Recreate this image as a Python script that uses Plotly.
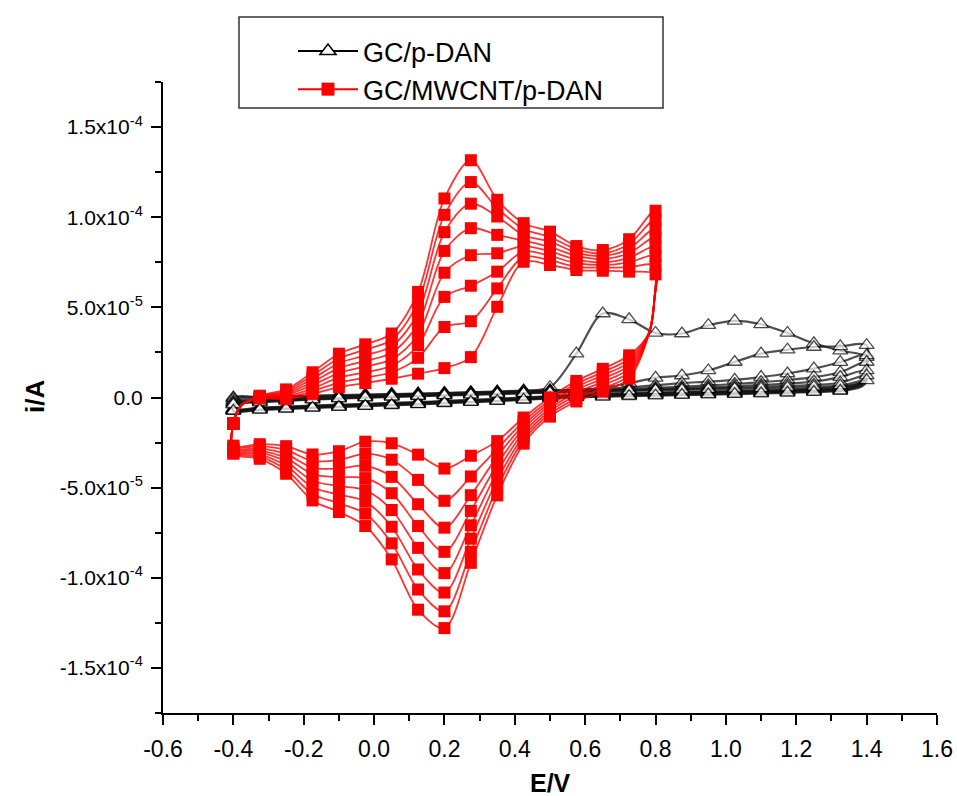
import plotly.graph_objects as go

# ---------------- data (currents in microamps) ----------------
# GC/MWCNT/p-DAN : 8 cycles, markers every 0.075 V between -0.4 and 0.8 V
E_RED = [-0.4, -0.325, -0.25, -0.175, -0.1, -0.025, 0.05, 0.125, 0.2, 0.275,
         0.35, 0.425, 0.5, 0.575, 0.65, 0.725, 0.8]
RED_ANODIC = [
    [-14.5, -0.5, -1.0, 2.0, 5.7, 8.0, 10.4, 13.2, 16.3, 22.4, 50.3, 75.3, 73.5, 70.7, 70.3, 69.8, 68.3],
    [-14.5, -0.3, 0.0, 3.5, 8.3, 11.0, 14.0, 22.0, 39.1, 42.3, 60.5, 78.0, 76.0, 72.5, 72.0, 72.3, 73.3],
    [-14.5, 0.0, 0.7, 5.0, 11.0, 14.0, 17.6, 29.0, 55.8, 62.0, 69.8, 81.0, 78.5, 74.5, 73.5, 75.0, 78.4],
    [-14.5, 0.0, 1.4, 6.8, 13.6, 17.2, 21.2, 35.0, 69.2, 78.9, 80.0, 84.0, 81.0, 76.5, 75.0, 77.5, 83.4],
    [-14.5, 0.3, 2.1, 8.6, 16.3, 20.3, 24.8, 41.0, 81.3, 93.9, 90.2, 87.0, 83.5, 78.5, 76.8, 80.0, 88.5],
    [-14.5, 0.5, 2.8, 10.4, 19.0, 23.4, 28.4, 47.0, 91.7, 107.5, 100.4, 90.0, 86.5, 80.3, 78.5, 82.6, 93.5],
    [-14.5, 0.7, 3.6, 12.2, 21.6, 26.5, 32.0, 53.0, 101.3, 119.5, 105.0, 93.5, 89.0, 82.2, 80.0, 85.2, 98.5],
    [-14.5, 1.0, 4.5, 14.0, 24.3, 29.5, 35.5, 58.6, 110.4, 131.6, 109.7, 96.7, 92.0, 84.0, 81.8, 87.8, 103.6],
]
# reverse sweep, at 0.725 ... -0.4 V
RED_CATHODIC = [
    [23.4, 15.9, 9.2, 0.0, -11.1, -24.2, -32.3, -39.4, -31.7, -25.4, -24.5, -29.8, -31.6, -27.0, -25.9, -26.7],
    [21.5, 14.1, 7.6, -1.5, -13.2, -28.5, -43.8, -57.3, -45.7, -34.5, -31.3, -34.6, -35.2, -29.2, -27.0, -27.3],
    [19.6, 12.3, 5.9, -3.0, -15.3, -32.8, -54.2, -72.2, -59.2, -44.0, -37.9, -39.4, -38.9, -31.4, -28.2, -28.0],
    [17.8, 10.5, 4.3, -4.5, -17.3, -37.1, -62.9, -85.6, -71.3, -53.1, -44.7, -44.2, -42.5, -33.6, -29.3, -28.6],
    [16.0, 8.7, 2.7, -6.1, -19.4, -41.4, -70.9, -97.4, -83.4, -62.4, -51.4, -49.1, -46.2, -35.7, -30.5, -29.3],
    [14.1, 6.9, 1.1, -7.6, -21.5, -45.7, -78.3, -108.2, -95.4, -71.7, -57.7, -53.9, -49.8, -37.9, -31.7, -29.9],
    [12.3, 5.1, -0.6, -9.1, -23.5, -50.0, -85.6, -118.6, -106.5, -80.9, -64.4, -58.7, -53.5, -40.1, -32.8, -30.6],
    [10.5, 3.3, -2.2, -10.6, -25.6, -54.3, -91.7, -127.9, -117.7, -89.8, -71.3, -63.5, -57.1, -42.3, -34.0, -31.2],
]
# unmarked points on the two switching corners
RED_LOWTURN_E = [-0.378]
RED_LOWTURN_I = [-4.5]
RED_HIGHTURN_E = [0.797, 0.782]
RED_HIGHTURN_I = [55.0, 36.0]

# GC/p-DAN : 7 cycles, markers every 0.075 V between -0.4 and 1.4 V
E_BLK = [-0.4, -0.325, -0.25, -0.175, -0.1, -0.025, 0.05, 0.125, 0.2, 0.275, 0.35,
         0.425, 0.5, 0.575, 0.65, 0.725, 0.8, 0.875, 0.95, 1.025, 1.1, 1.175, 1.25,
         1.325, 1.4]
BLK_ANODIC = [
    [0.0, 0.3, 0.7, 1.0, 1.3, 1.6, 1.9, 2.2, 2.5, 2.9, 3.3, 3.9, 5.7, 24.3, 46.6, 43.3, 35.8, 35.5, 40.1, 42.5, 40.6, 35.8, 30.0, 26.0, 22.4],
    [-0.5, 0.0, 0.4, 0.8, 1.1, 1.4, 1.7, 2.0, 2.4, 2.8, 3.2, 3.6, 4.0, 4.4, 5.4, 8.0, 10.9, 12.2, 15.0, 19.7, 24.3, 26.5, 28.0, 28.4, 29.0],
    [-1.5, -0.8, -0.3, 0.2, 0.6, 1.0, 1.3, 1.7, 2.1, 2.5, 2.9, 3.3, 3.7, 4.2, 4.8, 5.6, 6.8, 8.0, 8.8, 9.8, 11.3, 13.3, 16.0, 19.6, 23.4],
    [-2.5, -1.6, -1.0, -0.4, 0.1, 0.5, 0.9, 1.3, 1.7, 2.1, 2.5, 2.9, 3.4, 3.9, 4.3, 4.8, 5.4, 6.0, 6.7, 7.5, 8.5, 9.7, 11.3, 14.0, 19.7],
    [-3.0, -2.0, -1.3, -0.7, -0.2, 0.3, 0.7, 1.1, 1.5, 1.9, 2.3, 2.7, 3.1, 3.5, 3.9, 4.3, 4.7, 5.1, 5.6, 6.2, 6.9, 7.7, 8.8, 11.3, 15.0],
    [-3.5, -2.4, -1.6, -1.0, -0.4, 0.1, 0.5, 0.9, 1.3, 1.7, 2.1, 2.5, 2.9, 3.3, 3.6, 4.0, 4.3, 4.7, 5.0, 5.4, 5.9, 6.4, 7.0, 8.2, 12.2],
    [-4.0, -2.8, -1.9, -1.2, -0.6, -0.1, 0.3, 0.7, 1.1, 1.5, 1.9, 2.3, 2.7, 3.0, 3.3, 3.6, 3.9, 4.2, 4.5, 4.8, 5.1, 5.5, 5.9, 6.6, 9.5],
]
# reverse sweep, at 1.325 ... -0.4 V
BLK_CATHODIC = [
    [6.0, 5.0, 4.4, 4.0, 3.6, 3.3, 3.0, 2.7, 2.4, 2.1, 1.6, 0.8, 0.0, -0.7, -1.3, -1.9, -2.5, -3.0, -3.5, -4.0, -4.5, -5.0, -5.6, -6.2],
    [5.5, 4.6, 4.1, 3.7, 3.4, 3.1, 2.8, 2.5, 2.2, 1.8, 1.3, 0.5, -0.3, -1.0, -1.6, -2.2, -2.8, -3.3, -3.8, -4.3, -4.8, -5.3, -5.9, -6.5],
    [5.0, 4.2, 3.8, 3.4, 3.1, 2.8, 2.5, 2.2, 1.9, 1.5, 1.0, 0.3, -0.5, -1.2, -1.8, -2.4, -3.0, -3.5, -4.0, -4.5, -5.0, -5.5, -6.1, -6.7],
    [4.6, 3.9, 3.5, 3.1, 2.8, 2.5, 2.2, 1.9, 1.6, 1.2, 0.8, 0.1, -0.7, -1.4, -2.0, -2.6, -3.2, -3.7, -4.2, -4.7, -5.2, -5.7, -6.3, -6.9],
    [4.2, 3.6, 3.2, 2.8, 2.5, 2.2, 1.9, 1.6, 1.3, 1.0, 0.6, -0.1, -0.9, -1.6, -2.2, -2.8, -3.4, -3.9, -4.4, -4.9, -5.4, -5.9, -6.5, -7.1],
    [3.9, 3.3, 2.9, 2.5, 2.2, 1.9, 1.6, 1.3, 1.0, 0.7, 0.4, -0.3, -1.1, -1.8, -2.4, -3.0, -3.6, -4.1, -4.6, -5.1, -5.6, -6.1, -6.7, -7.3],
    [3.6, 3.0, 2.6, 2.2, 1.9, 1.6, 1.3, 1.0, 0.7, 0.4, 0.2, -0.5, -1.3, -2.0, -2.6, -3.2, -3.8, -4.3, -4.8, -5.3, -5.8, -6.3, -6.9, -7.5],
]
BLK_HIGHTURN_E = [1.397, 1.385]
BLK_HIGHTURN_I = [[14.0, 8.5], [14.0, 8.5], [13.0, 8.0], [12.0, 7.5], [10.0, 7.0], [9.0, 6.5], [8.0, 6.0]]

Y_TICKS = [-1.5e-4, -1.0e-4, -5.0e-5, 0.0, 5.0e-5, 1.0e-4, 1.5e-4]
Y_TICKTEXT = ["-1.5x10<sup>-4</sup>", "-1.0x10<sup>-4</sup>", "-5.0x10<sup>-5</sup>", "0.0",
              "5.0x10<sup>-5</sup>", "1.0x10<sup>-4</sup>", "1.5x10<sup>-4</sup>"]
X_TICKS = [-0.6, -0.4, -0.2, 0.0, 0.2, 0.4, 0.6, 0.8, 1.0, 1.2, 1.4, 1.6]
X_TICKTEXT = ["-0.6", "-0.4", "-0.2", "0.0", "0.2", "0.4", "0.6", "0.8", "1.0", "1.2", "1.4", "1.6"]

UA = 1e-6
FONT = "Liberation Sans, Arial, sans-serif"

fig = go.Figure()

# ---- black cycles ----
for j, (an, ca) in enumerate(zip(BLK_ANODIC, BLK_CATHODIC)):
    e_rev = E_BLK[-2::-1]
    xs = [E_BLK[0]] + E_BLK + BLK_HIGHTURN_E + e_rev
    ys = [ca[-1]] + an + BLK_HIGHTURN_I[j] + ca
    sz = [0] + [13] * len(E_BLK) + [0] * len(BLK_HIGHTURN_E) + [13] * len(e_rev)
    fig.add_trace(go.Scatter(
        x=xs, y=[v * UA for v in ys], mode="lines+markers",
        line=dict(color="rgba(20,20,20,0.75)", width=2.2, shape="spline", smoothing=0.9),
        marker=dict(symbol="triangle-up", size=sz, color="white",
                    line=dict(color="black", width=1.3)),
        showlegend=False, hoverinfo="skip"))

# ---- red cycles ----
for j, (an, ca) in enumerate(zip(RED_ANODIC, RED_CATHODIC)):
    e_rev = E_RED[-2::-1]
    xs = [E_RED[0]] + [E_RED[0]] + RED_LOWTURN_E + E_RED[1:] + RED_HIGHTURN_E + e_rev
    ys = [ca[-1]] + [an[0]] + RED_LOWTURN_I + an[1:] + RED_HIGHTURN_I + ca
    sz = [0, 12] + [0] * len(RED_LOWTURN_E) + [12] * (len(E_RED) - 1) + \
         [0] * len(RED_HIGHTURN_E) + [12] * len(e_rev)
    fig.add_trace(go.Scatter(
        x=xs, y=[v * UA for v in ys], mode="lines+markers",
        line=dict(color="rgba(255,0,0,0.8)", width=1.8, shape="spline", smoothing=0.9),
        marker=dict(symbol="square", size=sz, color="#ff0000", opacity=1, line=dict(width=0)),
        showlegend=False, hoverinfo="skip"))

# ---- legend entries ----
fig.add_trace(go.Scatter(x=[None], y=[None], mode="lines+markers", name="GC/p-DAN",
                         line=dict(color="black", width=2),
                         marker=dict(symbol="triangle-up", size=14, color="white",
                                     line=dict(color="black", width=1.5))))
fig.add_trace(go.Scatter(x=[None], y=[None], mode="lines+markers", name="GC/MWCNT/p-DAN",
                         line=dict(color="red", width=2),
                         marker=dict(symbol="square", size=13, color="red")))

W, H = 957, 796
L, R, T, B = 163, 20, 82, 83
pw, ph = W - L - R, H - T - B


def px(xp):
    return (xp - L) / pw


def py(yp):
    return (H - B - yp) / ph


fig.update_layout(
    width=W, height=H,
    margin=dict(l=L, r=R, t=T, b=B, autoexpand=False),
    paper_bgcolor="white", plot_bgcolor="white",
    font=dict(family=FONT, color="black"),
    showlegend=True,
    legend=dict(x=px(293), y=py(27), xanchor="left", yanchor="top",
                bgcolor="rgba(0,0,0,0)", borderwidth=0,
                font=dict(family=FONT, size=27, color="black"),
                itemwidth=60, tracegroupgap=0),
    shapes=[dict(type="rect", xref="paper", yref="paper",
                 x0=px(239), x1=px(663), y0=py(108), y1=py(17),
                 line=dict(color="#333333", width=1.5), fillcolor="rgba(0,0,0,0)",
                 layer="above")],
    annotations=[
        dict(text="<b>i/A</b>", xref="paper", yref="paper", x=px(35), y=py(397),
             xanchor="center", yanchor="middle",
             textangle=-90, showarrow=False, font=dict(family=FONT, size=26)),
        dict(text="<b>E/V</b>", xref="paper", yref="paper", x=px(550), y=py(783),
             xanchor="center", yanchor="middle",
             showarrow=False, font=dict(family=FONT, size=25)),
    ],
)

fig.update_xaxes(
    range=[-0.6, 1.6], tickvals=X_TICKS, ticktext=X_TICKTEXT, automargin=False,
    showgrid=False, zeroline=False, showline=True, linecolor="black", linewidth=2,
    ticks="outside", ticklen=10, tickwidth=2, tickcolor="black",
    tickfont=dict(family=FONT, size=23, color="black"), ticklabelstandoff=4,
    minor=dict(dtick=0.1, tick0=0, ticks="outside", ticklen=6, tickwidth=2, tickcolor="black"),
)
fig.update_yaxes(
    range=[-1.75e-4, 1.75e-4], tickvals=Y_TICKS, ticktext=Y_TICKTEXT, automargin=False,
    showgrid=False, zeroline=False, showline=True, linecolor="black", linewidth=2,
    ticks="outside", ticklen=10, tickwidth=2, tickcolor="black",
    tickfont=dict(family=FONT, size=21, color="black"), ticklabelstandoff=4,
    minor=dict(dtick=2.5e-5, tick0=0, ticks="outside", ticklen=6, tickwidth=2, tickcolor="black"),
)

fig.write_html("out.html", config={"displayModeBar": False},
               post_script="document.body.style.margin='0px';")
